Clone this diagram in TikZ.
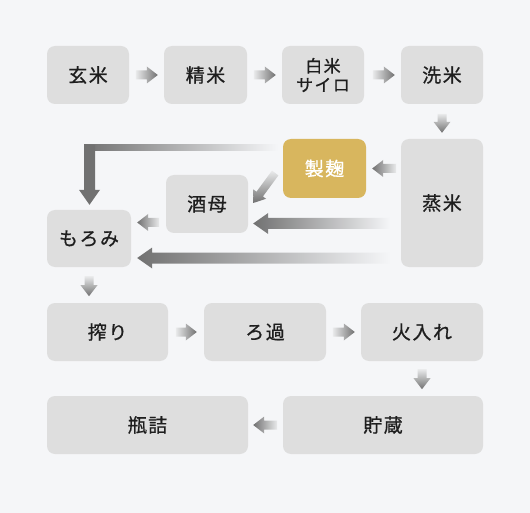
\documentclass[tikz,border=0pt]{standalone}
\usepackage{fontspec}
\newfontfamily\jp[LetterSpace=8,FakeBold=0.8]{Noto Sans CJK JP}
\usetikzlibrary{calc}
\definecolor{bg}{HTML}{F5F6F8}
\definecolor{boxfill}{HTML}{DEDEDE}
\definecolor{gold}{HTML}{D8B65E}
\definecolor{txt}{HTML}{1E1E1E}
\definecolor{alight}{HTML}{E9EAEB}
\definecolor{adark}{HTML}{717171}
\tikzset{
  box/.style={fill=boxfill, rounded corners=8pt, inner sep=0pt, text=txt,
    font=\jp\fontsize{19}{22}\selectfont, align=center},
  goldbox/.style={box, fill=gold, text=white},
  pics/arrR/.style={code={\shade[left color=alight,right color=adark]
    (-#1,-4.5) -- (-11,-4.5) -- (-11,-8.5) -- (0,0) -- (-11,8.5) -- (-11,4.5) -- (-#1,4.5) -- cycle;}},
  pics/arrL/.style={code={\shade[left color=adark,right color=alight]
    (#1,-4.5) -- (11,-4.5) -- (11,-8.5) -- (0,0) -- (11,8.5) -- (11,4.5) -- (#1,4.5) -- cycle;}},
  pics/arrD/.style={code={\shade[top color=alight,bottom color=adark]
    (-4.5,-#1) -- (-4.5,-11) -- (-8.5,-11) -- (0,0) -- (8.5,-11) -- (4.5,-11) -- (4.5,-#1) -- cycle;}},
  pics/bigL/.style={code={\shade[left color=adark,right color=bg]
    (0,0) -- (15,-10.5) -- (15,-5.5) -- (#1,-5.5) -- (#1,5.5) -- (15,5.5) -- (15,10.5) -- cycle;}},
}
\begin{document}
\begin{tikzpicture}[x=1pt,y=-1pt]
\fill[bg] (0,0) rectangle (530,513);
\useasboundingbox (0,0) rectangle (530,513);
% row 1
\node[box, minimum width=82, minimum height=58] (genmai) at (88,75) {玄米};
\node[box, minimum width=83, minimum height=58] (seimai) at (205.5,75) {精米};
\node[box, minimum width=82, minimum height=58, font=\jp\fontsize{17}{19}\selectfont] (silo) at (323,75) {白米\\サイロ};
\node[box, minimum width=82, minimum height=58] (senmai) at (442,75) {洗米};
% row 2
\node[goldbox, minimum width=83, minimum height=59] (seikiku) at (324.5,168.5) {製麹};
\node[box, minimum width=82, minimum height=128] (jomai) at (442,203) {蒸米};
\node[box, minimum width=82, minimum height=58] (shubo) at (207,204) {酒母};
\node[box, minimum width=84, minimum height=57] (moromi) at (89,238.5) {もろみ};
% row 3
\node[box, minimum width=121, minimum height=58] (shibori) at (107.5,332) {搾り};
\node[box, minimum width=122, minimum height=58] (roka) at (265,332) {ろ過};
\node[box, minimum width=122, minimum height=58] (hiire) at (422,332) {火入れ};
% row 4
\node[box, minimum width=201, minimum height=58] (binzume) at (147.5,425) {瓶詰};
\node[box, minimum width=200, minimum height=58] (chozo) at (383,425) {貯蔵};

% small arrows
\pic at ($(seimai.west)+(-6,0)$) {arrR=22};
\pic at ($(silo.west)+(-6,0)$) {arrR=22};
\pic at ($(senmai.west)+(-6,0)$) {arrR=22};
\pic at ($(jomai.north)+(0,-6)$) {arrD=19};
\pic at ($(seikiku.east)+(6,0)$) {arrL=24};
\pic at ($(moromi.east)+(6,-16)$) {arrL=22};
\pic at ($(moromi.south)+(0,29)$) {arrD=20};
\pic at ($(roka.west)+(-7,0)$) {arrR=21};
\pic at ($(hiire.west)+(-6,0)$) {arrR=22};
\pic at ($(hiire.south)+(0,28)$) {arrD=20};
\pic at ($(binzume.east)+(5,0)$) {arrL=24};

% diagonal arrow seikiku -> shubo
\coordinate (dtip) at ($(shubo.east)+(5,-1)$);
\begin{scope}[shift={(dtip)}]
\shade[top color=alight, bottom color=adark]
  (25.2,-27.6) -- (9.7,-6.5) -- (12.9,-4.2) -- (0,0) -- (0.1,-13.6) -- (3.3,-11.3) -- (18.8,-32.4) -- cycle;
\end{scope}

% big arrows from jomai
\pic at ($(shubo.east)+(5,19.5)$) {bigL=137};
\pic at ($(moromi.east)+(6,19.5)$) {bigL=253};

% L arrow seikiku -> moromi
\coordinate (ltip) at ($(moromi.north)+(0.5,-5)$);
\coordinate (lcorner) at (ltip |- seikiku.north);
\shade[left color=adark, right color=bg]
  ($(lcorner)+(-5.5,6)$) rectangle ($(seikiku.west)+(-5,-18)$);
\fill[adark] ($(lcorner)+(-5.5,6)$) -- ($(lcorner)+(5.5,6)$) -- ($(lcorner)+(5.5,17)$) --
  ($(ltip)+(5.5,-15)$) -- ($(ltip)+(10.5,-15)$) -- (ltip) -- ($(ltip)+(-10.5,-15)$) --
  ($(ltip)+(-5.5,-15)$) -- cycle;
\end{tikzpicture}
\end{document}
